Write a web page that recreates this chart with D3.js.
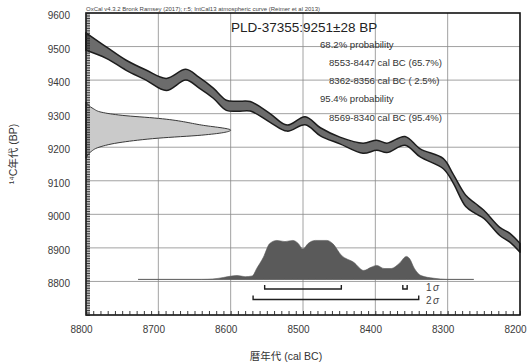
<!DOCTYPE html>
<html>
<head>
<meta charset="utf-8">
<script src="https://cdn.jsdelivr.net/npm/d3@7"></script>
<style>
  body { margin: 0; background: #fff; }
  svg { display: block; font-family: "Liberation Sans", Arial, "Noto Sans CJK JP", sans-serif; }
</style>
</head>
<body>
<div id="chart"></div>
<script>
(function(d3) {
    "use strict";

    var W = 527, H = 362;
    var margin = { top: 13, right: 7, bottom: 47, left: 86 };

    // calibration curve (IntCal13)
    var calYears = [8800, 8772, 8745, 8717, 8689, 8662, 8644, 8624, 8606, 8590, 8573, 8546, 8522,
        8497, 8476, 8449, 8417, 8398, 8384, 8359, 8338, 8306, 8293, 8275, 8262, 8250, 8228, 8214, 8200];
    var calBP = [9515, 9482, 9445, 9415, 9387, 9416, 9393, 9361, 9325, 9322, 9322, 9288, 9257,
        9279, 9246, 9220, 9197, 9206, 9198, 9219, 9183, 9151, 9109, 9040, 9018, 9000, 8949, 8930, 8900];
    var calErr = [26, 17, 15, 15, 18, 16, 16, 15, 15, 15, 14, 13, 9,
        12, 12, 10, 15, 15, 14, 13, 12, 15, 13, 17, 15, 12, 12, 13, 13];

    // measured date distribution on the y axis
    var gaussBP = [9335, 9315, 9304, 9295, 9286, 9266, 9251, 9236, 9227, 9215, 9200, 9185, 9167];
    var gaussDensity = [0, 0.05, 0.11, 0.25, 0.5, 0.8, 1, 0.8, 0.5, 0.25, 0.09, 0.03, 0];

    // calibrated probability on the x axis
    var probYears = [8728, 8640, 8625, 8610, 8601, 8591, 8580, 8570, 8564, 8555, 8546, 8536, 8525,
        8514, 8507, 8500, 8493, 8483, 8467, 8459, 8447, 8430, 8416, 8406, 8398, 8388, 8378, 8367,
        8357, 8353, 8346, 8337, 8319, 8301, 8264];
    var probValues = [0, 0, 0.01, 0.05, 0.08, 0.10, 0.07, 0.09, 0.28, 0.56, 0.92, 1.0, 0.97,
        1.0, 0.93, 0.78, 0.92, 1.0, 1.0, 0.92, 0.62, 0.44, 0.23, 0.31, 0.36, 0.28, 0.28, 0.41,
        0.59, 0.54, 0.28, 0.10, 0.03, 0, 0];

    var sigma1 = [[8553, 8447], [8362, 8356]];
    var sigma2 = [[8569, 8340]];

    var xTicks = [8800, 8700, 8600, 8500, 8400, 8300, 8200];
    var yTicks = [8800, 8900, 9000, 9100, 9200, 9300, 9400, 9500, 9600];

    var header = "OxCal v4.3.2 Bronk Ramsey (2017); r:5; IntCal13 atmospheric curve (Reimer et al 2013)";
    var sampleLabel = "PLD-37355:9251\u00b128 BP";
    var ranges = [
        { text: "68.2% probability", indent: 0 },
        { text: "8553-8447 cal BC (65.7%)", indent: 1 },
        { text: "8362-8356 cal BC ( 2.5%)", indent: 1 },
        { text: "95.4% probability", indent: 0 },
        { text: "8569-8340 cal BC (95.4%)", indent: 1 }
    ];

    var x = d3.scaleLinear().domain([8800, 8200]).range([margin.left, W - margin.right]);
    var y = d3.scaleLinear().domain([8700, 9600]).range([H - margin.bottom, margin.top]);

    var svg = d3.select("#chart").append("svg")
        .attr("width", W)
        .attr("height", H);

    // grid
    svg.append("g").selectAll("line.v")
        .data(xTicks.slice(1, -1))
        .join("line")
        .attr("x1", d => x(d)).attr("x2", d => x(d))
        .attr("y1", y(9600)).attr("y2", y(8700))
        .attr("stroke", "#8a8a8a").attr("stroke-width", 0.8);
    svg.append("g").selectAll("line.h")
        .data(yTicks.slice(0, -1))
        .join("line")
        .attr("x1", x(8800)).attr("x2", x(8200))
        .attr("y1", d => y(d)).attr("y2", d => y(d))
        .attr("stroke", "#8a8a8a").attr("stroke-width", 0.8);

    // measured date (normal distribution)
    var gx = d3.scaleLinear().domain([0, 1]).range([x(8800), x(8600)]);
    var gauss = gaussBP.map((b, i) => ({ bp: b, p: gaussDensity[i] }));
    svg.append("path")
        .datum(gauss)
        .attr("d", d3.area()
            .curve(d3.curveMonotoneY)
            .y(d => y(d.bp))
            .x0(x(8800))
            .x1(d => gx(d.p)))
        .attr("fill", "#cacaca")
        .attr("stroke", "#3a3a3a")
        .attr("stroke-width", 1);

    // calibration band
    var cal = calYears.map((t, i) => ({ t: t, bp: calBP[i], e: calErr[i] }));
    svg.append("path")
        .datum(cal)
        .attr("d", d3.area()
            .curve(d3.curveCatmullRom)
            .x(d => x(d.t))
            .y0(d => y(d.bp - d.e))
            .y1(d => y(d.bp + d.e)))
        .attr("fill", "#6c6c6c")
        .attr("stroke", "#1c1c1c")
        .attr("stroke-width", 1.5)
        .attr("stroke-linejoin", "round");

    // calibrated distribution
    var base = y(8806);
    var py = d3.scaleLinear().domain([0, 1]).range([base, base - 39]);
    var prob = probYears.map((t, i) => ({ t: t, p: probValues[i] }));
    svg.append("line")
        .attr("x1", x(probYears[0])).attr("x2", x(probYears[probYears.length - 1]))
        .attr("y1", base).attr("y2", base)
        .attr("stroke", "#888").attr("stroke-width", 0.7);
    svg.append("path")
        .datum(prob)
        .attr("d", d3.area()
            .curve(d3.curveMonotoneX)
            .x(d => x(d.t))
            .y0(base)
            .y1(d => py(d.p)))
        .attr("fill", "#5a5a5a")
        .attr("stroke", "#5a5a5a")
        .attr("stroke-width", 0.6);

    // sigma brackets
    function bracket(list, yy) {
        svg.append("g").selectAll("path")
            .data(list)
            .join("path")
            .attr("d", d => "M" + x(d[0]) + "," + (yy - 4) + "V" + yy + "H" + x(d[1]) + "V" + (yy - 4))
            .attr("fill", "none")
            .attr("stroke", "#1e1e1e")
            .attr("stroke-width", 1.4);
    }
    bracket(sigma1, base + 9.5);
    bracket(sigma2, base + 20);

    [["1", base + 12], ["2", base + 24.5]].forEach(function(s) {
        var t = svg.append("text")
            .attr("x", x(8330))
            .attr("y", s[1])
            .attr("font-size", 10)
            .attr("fill", "#444");
        t.append("tspan").text(s[0]);
        t.append("tspan").attr("font-style", "italic").attr("dx", 1.5).text("\u03c3");
    });

    // frame
    svg.append("rect")
        .attr("x", x(8800)).attr("y", y(9600))
        .attr("width", x(8200) - x(8800))
        .attr("height", y(8700) - y(9600))
        .attr("fill", "none")
        .attr("stroke", "#111")
        .attr("stroke-width", 1.6);

    // minor ticks
    var yMinor = svg.append("g")
        .attr("transform", "translate(" + x(8800) + ",0)")
        .call(d3.axisRight(y).tickValues(d3.range(8700, 9601, 5)).tickSize(4).tickFormat(""));
    var xMinor = svg.append("g")
        .attr("transform", "translate(0," + y(8700) + ")")
        .call(d3.axisTop(x).tickValues(d3.range(8200, 8801, 10)).tickSize(4).tickFormat(""));
    [yMinor, xMinor].forEach(function(g) {
        g.select(".domain").remove();
        g.selectAll(".tick line").attr("stroke", "#222").attr("stroke-width", 0.9);
    });

    // tick labels
    var yAxis = svg.append("g")
        .attr("transform", "translate(" + x(8800) + ",0)")
        .call(d3.axisLeft(y).tickValues(yTicks).tickSize(0).tickPadding(16).tickFormat(d3.format("d")));
    var xAxis = svg.append("g")
        .attr("transform", "translate(0," + y(8700) + ")")
        .call(d3.axisBottom(x).tickValues(xTicks).tickSize(0).tickPadding(11).tickFormat(d3.format("d")));
    [yAxis, xAxis].forEach(function(g) {
        g.select(".domain").remove();
        g.selectAll("text")
            .attr("font-family", "\"Liberation Sans\", Arial, sans-serif")
            .attr("font-size", 10)
            .attr("fill", "#3a3a3a");
    });
    yAxis.selectAll("text").attr("dy", "0.55em");
    xAxis.selectAll("text").attr("dx", -5);

    // axis titles
    svg.append("text")
        .attr("transform", "translate(17,154) rotate(-90)")
        .attr("text-anchor", "middle")
        .attr("font-size", 10.5)
        .attr("fill", "#333")
        .text("\u00b9\u2074C\u5e74\u4ee3 (BP)");
    svg.append("text")
        .attr("x", 286)
        .attr("y", 360)
        .attr("text-anchor", "middle")
        .attr("font-size", 10.5)
        .attr("fill", "#333")
        .text("\u66a6\u5e74\u4ee3 (cal BC)");

    // header and annotations
    svg.append("text")
        .attr("x", x(8800))
        .attr("y", 10.5)
        .attr("font-size", 5.4)
        .attr("fill", "#444")
        .attr("textLength", 234)
        .attr("lengthAdjust", "spacingAndGlyphs")
        .text(header);

    svg.append("text")
        .attr("x", 231)
        .attr("y", 32)
        .attr("font-size", 13.5)
        .attr("fill", "#222")
        .text(sampleLabel);

    svg.append("g").selectAll("text")
        .data(ranges)
        .join("text")
        .attr("x", d => 320 + d.indent * 9)
        .attr("y", (d, i) => 47.5 + i * 18.3)
        .attr("font-size", 9.6)
        .attr("fill", "#333")
        .text(d => d.text);

})(d3);
</script>
</body>
</html>
